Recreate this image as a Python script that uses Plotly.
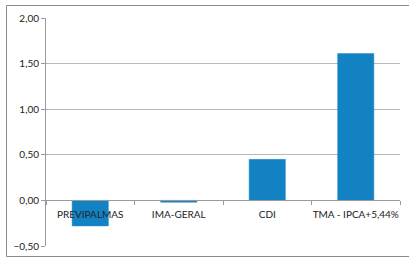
import plotly.graph_objects as go

categories = ["PREVIPALMAS", "IMA-GERAL", "CDI", "TMA - IPCA+5,44%"]
values = [-0.28, -0.02, 0.45, 1.61]
y_ticks = [-0.5, 0.0, 0.5, 1.0, 1.5, 2.0]

fig = go.Figure(go.Bar(
    x=categories, y=values,
    marker=dict(color="#1282C2", line=dict(color="#2a8fcb", width=0.5)),
    width=0.41,
))

W, H = 409, 259
ml, mr, mt, mb = 46, 9, 18, 13
pw, ph = W - ml - mr, H - mt - mb

def px_x(p):
    return (p - ml) / pw

def px_y(p):
    return 1 - (p - mt) / ph

fig.update_layout(
    width=W, height=H,
    margin=dict(l=ml, r=mr, t=mt, b=mb, autoexpand=False),
    paper_bgcolor="white", plot_bgcolor="white",
    separators=",.",
    showlegend=False,
    font=dict(family="Lato", size=10, color="#222222"),
    xaxis=dict(
        anchor="free", position=0.2, automargin=False, tickangle=0,
        showline=True, linecolor="#9a9a9a", linewidth=1,
        ticks="outside", ticklen=4, tickcolor="#9a9a9a",
        tickson="boundaries", showgrid=False, ticklabelstandoff=5,
        tickfont=dict(family="Lato", size=10, color="#222222"),
    ),
    yaxis=dict(
        range=[-0.5, 2.0], tickvals=y_ticks, tickformat=".2f", automargin=False,
        showline=True, linecolor="#9a9a9a", linewidth=1,
        ticks="outside", ticklen=4, tickcolor="#9a9a9a",
        showgrid=True, gridcolor="#b8b8b8", gridwidth=1,
        zeroline=False,
        tickfont=dict(family="Lato", size=10, color="#222222"),
    ),
    shapes=[dict(
        type="rect", xref="paper", yref="paper",
        x0=px_x(6.5), x1=px_x(412), y0=px_y(256.5), y1=px_y(5.5),
        line=dict(color="#8a8a8a", width=1), fillcolor="rgba(0,0,0,0)",
        layer="below",
    )],
)

fig.write_html(
    "out.html",
    config={"displayModeBar": False},
    post_script="document.body.style.margin='0';document.body.style.overflow='hidden';",
)
